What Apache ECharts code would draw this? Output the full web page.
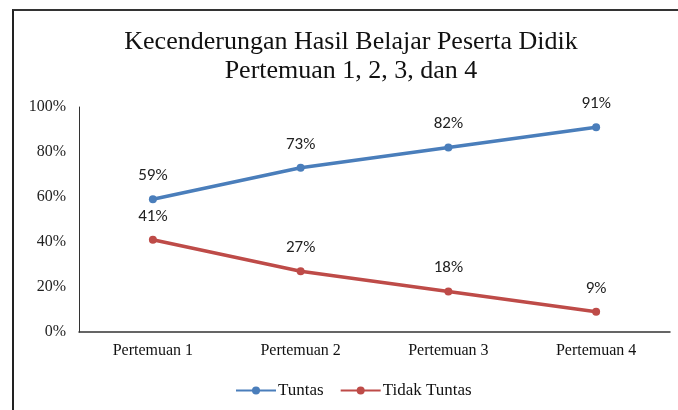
<!DOCTYPE html>
<html>
<head>
<meta charset="utf-8">
<script src="https://cdn.jsdelivr.net/npm/echarts@6/dist/echarts.min.js"></script>
<style>
html,body{margin:0;padding:0;background:#fff;}
#frame{position:absolute;left:12px;top:9px;width:666px;height:401px;border-left:2px solid #222;border-top:2px solid #333;box-sizing:border-box;}
#main{position:absolute;left:0;top:0;width:678px;height:410px;}
</style>
</head>
<body>
<div id="frame"></div>
<div id="main"></div>
<script>
var categories = ['Pertemuan 1', 'Pertemuan 2', 'Pertemuan 3', 'Pertemuan 4'];
var tuntas = [59, 73, 82, 91];
var tidakTuntas = [41, 27, 18, 9];
var yTicks = [0, 20, 40, 60, 80, 100];

var serif = '"Liberation Serif", "DejaVu Serif", serif';
var sans = 'Carlito, "Liberation Sans", "Open Sans", sans-serif';

var chart = echarts.init(document.getElementById('main'));
chart.setOption({
    backgroundColor: 'transparent',
    animation: false,
    title: {
        text: 'Kecenderungan Hasil Belajar Peserta Didik\nPertemuan 1, 2, 3, dan 4',
        left: 351,
        top: 28,
        padding: 0,
        textAlign: 'center',
        textStyle: {
            fontFamily: serif,
            fontWeight: 'normal',
            fontSize: 26,
            lineHeight: 29,
            color: '#111'
        }
    },
    legend: {
        bottom: 11,
        left: 235,
        padding: 0,
        itemWidth: 40,
        itemHeight: 10,
        itemGap: 16,
        textStyle: { fontFamily: serif, fontSize: 17, color: '#111', padding: [0, 0, 0, -3] },
        data: ['Tuntas', 'Tidak Tuntas']
    },
    grid: { left: 79, right: 8, top: 107, bottom: 78 },
    xAxis: {
        type: 'category',
        data: categories,
        axisTick: { show: false },
        axisLine: { lineStyle: { color: '#333', width: 1.5 } },
        axisLabel: { fontFamily: serif, fontSize: 16, color: '#111', margin: 11 }
    },
    yAxis: {
        type: 'value',
        min: yTicks[0],
        max: yTicks[yTicks.length - 1],
        interval: 20,
        splitLine: { show: false },
        axisTick: { show: false },
        axisLine: { show: true, lineStyle: { color: '#333', width: 1 } },
        axisLabel: {
            fontFamily: serif, fontSize: 16, color: '#222', margin: 13,
            formatter: function (v) { return v + '%'; }
        }
    },
    series: [
        {
            name: 'Tuntas',
            type: 'line',
            data: tuntas,
            symbol: 'circle',
            symbolSize: 8,
            lineStyle: { width: 3.5, color: '#4a7ebb' },
            itemStyle: { color: '#4a7ebb' },
            label: {
                show: true, position: 'top', distance: 11,
                fontFamily: sans, fontSize: 17, color: '#222',
                formatter: function (p) { return p.value + '%'; }
            }
        },
        {
            name: 'Tidak Tuntas',
            type: 'line',
            data: tidakTuntas,
            symbol: 'circle',
            symbolSize: 8,
            lineStyle: { width: 3.5, color: '#be4b48' },
            itemStyle: { color: '#be4b48' },
            label: {
                show: true, position: 'top', distance: 11,
                fontFamily: sans, fontSize: 17, color: '#222',
                formatter: function (p) { return p.value + '%'; }
            }
        }
    ]
});
</script>
</body>
</html>
